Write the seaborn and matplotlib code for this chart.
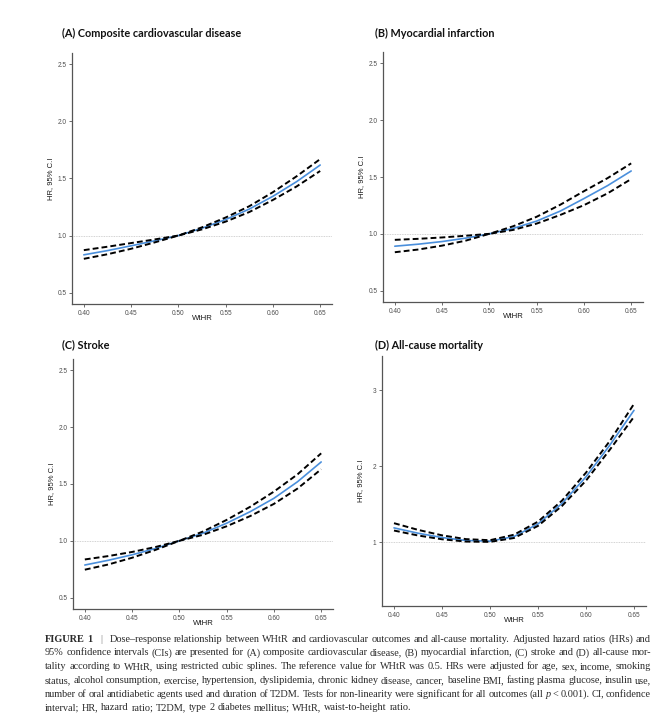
import matplotlib
matplotlib.use("Agg")
import matplotlib.pyplot as plt
import seaborn as sns

# ------------------ DATA ------------------
wthr = [0.400, 0.425, 0.450, 0.475, 0.500, 0.525, 0.550, 0.575, 0.600, 0.625, 0.650]

# (A) composite cardiovascular disease
cvd_hr = [0.831, 0.868, 0.910, 0.954, 1.000, 1.064, 1.140, 1.232, 1.344, 1.472, 1.618]
cvd_hi = [0.872, 0.902, 0.934, 0.966, 1.000, 1.072, 1.158, 1.257, 1.380, 1.519, 1.670]
cvd_lo = [0.796, 0.836, 0.884, 0.940, 1.000, 1.054, 1.122, 1.206, 1.312, 1.430, 1.566]

# (B) myocardial infarction
mi_hr = [0.891, 0.909, 0.932, 0.962, 1.000, 1.047, 1.112, 1.200, 1.310, 1.424, 1.553]
mi_hi = [0.947, 0.956, 0.968, 0.983, 1.000, 1.066, 1.150, 1.256, 1.375, 1.490, 1.620]
mi_lo = [0.838, 0.862, 0.896, 0.940, 1.000, 1.034, 1.090, 1.166, 1.252, 1.356, 1.482]

# (C) stroke
stroke_hr = [0.787, 0.829, 0.877, 0.933, 1.000, 1.067, 1.155, 1.257, 1.374, 1.520, 1.694]
stroke_hi = [0.836, 0.866, 0.902, 0.946, 1.000, 1.082, 1.184, 1.300, 1.433, 1.585, 1.770]
stroke_lo = [0.746, 0.792, 0.851, 0.921, 1.000, 1.053, 1.128, 1.218, 1.325, 1.460, 1.630]

# (D) all-cause mortality
death_hr = [1.188, 1.118, 1.061, 1.022, 1.013, 1.074, 1.240, 1.510, 1.860, 2.280, 2.735]
death_hi = [1.250, 1.162, 1.090, 1.040, 1.026, 1.098, 1.270, 1.547, 1.915, 2.335, 2.820]
death_lo = [1.153, 1.088, 1.038, 1.008, 1.004, 1.055, 1.214, 1.477, 1.810, 2.220, 2.650]

titles = ["(A) Composite cardiovascular disease", "(B) Myocardial infarction",
          "(C) Stroke", "(D) All-cause mortality"]
x_ticks = [0.40, 0.45, 0.50, 0.55, 0.60, 0.65]
y_ticks_hr = [0.5, 1.0, 1.5, 2.0, 2.5]
y_ticks_death = [1, 2, 3]

caption = [
    "FIGURE 1 | Dose\u2013response relationship between WHtR and cardiovascular outcomes and all-cause mortality. Adjusted hazard ratios (HRs) and",
    "95% confidence intervals (CIs) are presented for (A) composite cardiovascular disease, (B) myocardial infarction, (C) stroke and (D) all-cause mor-",
    "tality according to WHtR, using restricted cubic splines. The reference value for WHtR was 0.5. HRs were adjusted for age, sex, income, smoking",
    "status, alcohol consumption, exercise, hypertension, dyslipidemia, chronic kidney disease, cancer, baseline BMI, fasting plasma glucose, insulin use,",
    "number of oral antidiabetic agents used and duration of T2DM. Tests for non-linearity were significant for all outcomes (all p < 0.001). CI, confidence",
    "interval; HR, hazard ratio; T2DM, type 2 diabetes mellitus; WHtR, waist-to-height ratio.",
]

# ------------------ STYLE ------------------
sns.set_theme(style="white")
plt.rcParams["font.family"] = ["Liberation Sans", "DejaVu Sans"]

W, H = 669, 727
fig = plt.figure(figsize=(W / 100, H / 100), dpi=100)

BLUE = "#4a8fdc"
AXIS = "#555555"

# pixel boxes: left, top, right, bottom ; title x, title y
layout = [
    ([72, 53, 332, 304], (62, 33)),
    ([383, 52, 643, 302], (375, 33)),
    ([73, 359, 333, 609], (62, 345)),
    ([382, 356, 646, 606], (375, 345)),
]
series = [(cvd_hr, cvd_lo, cvd_hi), (mi_hr, mi_lo, mi_hi),
          (stroke_hr, stroke_lo, stroke_hi), (death_hr, death_lo, death_hi)]

for i, ((l, t, r, b), (tx, ty)) in enumerate(layout):
    ax = fig.add_axes([l / W, 1 - b / H, (r - l) / W, (b - t) / H])
    hr, lo, hi = series[i]

    ax.axhline(1, color="#c4c4c4", lw=0.6, ls=(0, (1, 1)), zorder=1)
    sns.lineplot(x=wthr, y=hr, ax=ax, color=BLUE, lw=1.2, errorbar=None, zorder=2)
    sns.lineplot(x=wthr, y=hi, ax=ax, color="black", lw=1.4,
                 linestyle=(0, (3, 1.6)), errorbar=None, zorder=3)
    sns.lineplot(x=wthr, y=lo, ax=ax, color="black", lw=1.4,
                 linestyle=(0, (3, 1.6)), errorbar=None, zorder=3)

    ax.set_xlim(0.3875, 0.6625)
    ax.set_xticks(x_ticks)
    ax.set_xticklabels([f"{v:.2f}" for v in x_ticks])
    if i < 3:
        ax.set_ylim(0.40, 2.60)
        ax.set_yticks(y_ticks_hr)
        ax.set_yticklabels([f"{v:.1f}" for v in y_ticks_hr])
    else:
        ax.set_ylim(0.16, 3.45)
        ax.set_yticks(y_ticks_death)
        ax.set_yticklabels([str(v) for v in y_ticks_death])

    for side in ["top", "right"]:
        ax.spines[side].set_visible(False)
    for side in ["left", "bottom"]:
        ax.spines[side].set_color(AXIS)
        ax.spines[side].set_linewidth(0.9)
    ax.tick_params(left=True, bottom=True, length=2.5, width=0.6, color=AXIS,
                   labelsize=4.7, labelcolor="#4d4d4d", pad=1.5)

    ax.set_xlabel("WtHR", fontsize=5.6, color="#1a1a1a")
    ax.set_ylabel("HR, 95% C.I", fontsize=5.5, color="#1a1a1a")
    ax.xaxis.set_label_coords(0.5, -0.045)
    ax.yaxis.set_label_coords(-18 / (r - l), 0.5)

    fig.text(tx / W, 1 - ty / H, titles[i], fontsize=7.8, fontweight="bold",
             family="Lato", va="center", ha="left", color="#111111")

# ------------------ CAPTION (justified, word by word) ------------------
renderer = fig.canvas.get_renderer()
cap_left, cap_right = 45, 651
cap_font = dict(family="Liberation Serif", fontsize=7.35, color="#2b2b2b", va="baseline")
space_w = fig.text(0, 0, "a a", **cap_font).get_window_extent(renderer).width - \
    2 * fig.text(0, 0, "a", **cap_font).get_window_extent(renderer).width
for t in fig.texts[-2:]:
    t.remove()

for li, line in enumerate(caption):
    y = 1 - (641.5 + li * 13.8) / H
    words = line.split(" ")
    texts = []
    extra = [0.0] * len(words)
    for wi, word in enumerate(words):
        kw = dict(cap_font)
        if li == 0 and wi < 2:
            kw["fontweight"] = "bold"
        if li == 0 and wi in (1, 2):
            extra[wi] = 5.0   # wider space around the "|"
        if li == 0 and word == "|":
            kw["color"] = "#777777"
        if li == 4 and word == "p":
            kw["style"] = "italic"
        texts.append(fig.text(0, y, word, **kw))
    widths = [tt.get_window_extent(renderer).width for tt in texts]
    if li < len(caption) - 1:
        gap = (cap_right - cap_left - sum(widths) - sum(extra)) / (len(words) - 1)
    else:
        gap = space_w
    x = cap_left
    for tt, w, e in zip(texts, widths, extra):
        tt.set_x(x / W)
        x += w + gap + e

fig.savefig("out.png", dpi=100)
